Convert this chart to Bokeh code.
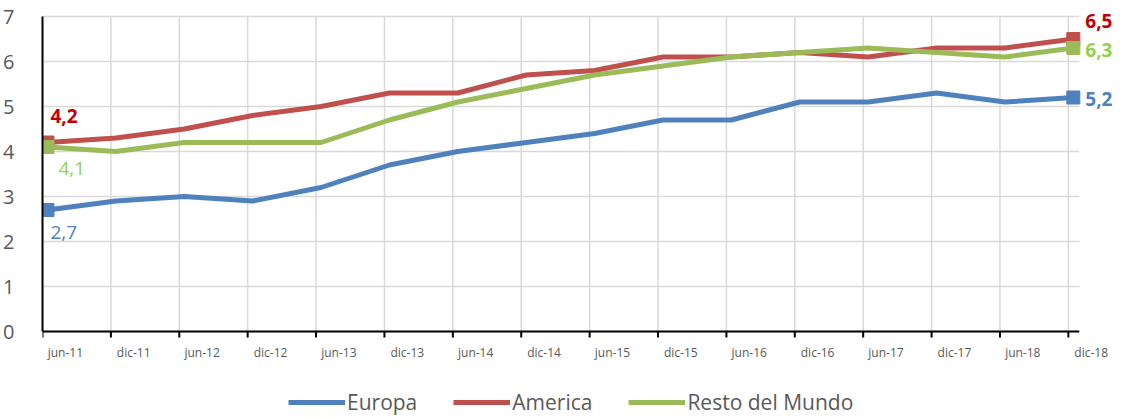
from bokeh.plotting import figure
from bokeh.models import (Range1d, FixedTicker, LinearAxis, Legend, LegendItem, Label)
from bokeh.core.properties import value
from bokeh.embed import file_html
from bokeh.resources import INLINE

periods = ["jun-11", "dic-11", "jun-12", "dic-12", "jun-13", "dic-13", "jun-14", "dic-14",
           "jun-15", "dic-15", "jun-16", "dic-16", "jun-17", "dic-17", "jun-18", "dic-18"]
europa = [2.7, 2.9, 3.0, 2.9, 3.2, 3.7, 4.0, 4.2, 4.4, 4.7, 4.7, 5.1, 5.1, 5.3, 5.1, 5.2]
america = [4.2, 4.3, 4.5, 4.8, 5.0, 5.3, 5.3, 5.7, 5.8, 6.1, 6.1, 6.2, 6.1, 6.3, 6.3, 6.5]
resto = [4.1, 4.0, 4.2, 4.2, 4.2, 4.7, 5.1, 5.4, 5.7, 5.9, 6.1, 6.2, 6.3, 6.2, 6.1, 6.3]
series_names = ["Europa", "America", "Resto del Mundo"]
y_ticks = [0, 1, 2, 3, 4, 5, 6, 7]

FONT = "Open Sans"
GRAY = "#595959"
GRID_COLOR = "#D9D9D9"

# ---- layout (pixel geometry of the plot area) ----
W, H = 1115, 418
LEFT = 34                 # left border holding the value axis
PX_X = 68.9               # px per period
PX_Y = 45.0               # px per unit
X0_PX = 5                 # first point sits 5px right of the left axis
AXIS_Y_PX = 331           # pixel row of value 0
n = len(periods)
x = list(range(n))
GRID_OFF = -X0_PX / PX_X
LABEL_OFF = 18 / PX_X
x_start = GRID_OFF
x_axis_end = n - 1 + 6 / PX_X
x_end = x_start + (W - LEFT) / PX_X
y_top = AXIS_Y_PX / PX_Y
y_bot = y_top - H / PX_Y
grid_x = [i + GRID_OFF for i in x]
ymax = y_ticks[-1]

p = figure(width=W, height=H, output_backend="svg", toolbar_location=None,
           x_range=Range1d(x_start, x_end), y_range=Range1d(y_bot, y_top),
           x_axis_location=None, y_axis_location=None,
           min_border_left=LEFT, min_border_right=0, min_border_top=0, min_border_bottom=0)
p.outline_line_color = None
p.xgrid.visible = False
p.ygrid.visible = False

# gridlines limited to the plot area
p.segment(x0=grid_x, y0=[0] * n, x1=grid_x, y1=[ymax] * n,
          line_color=GRID_COLOR, line_width=1.5)
p.segment(x0=[x_start] * len(y_ticks), y0=y_ticks, x1=[x_axis_end] * len(y_ticks), y1=y_ticks,
          line_color=GRID_COLOR, line_width=1.5)

# value axis (real axis, line limited to 0..7)
yaxis = LinearAxis(ticker=FixedTicker(ticks=y_ticks), bounds=(0, ymax),
                   axis_line_color="black", axis_line_width=2,
                   major_tick_line_color=None, minor_tick_line_color=None,
                   major_label_text_font=FONT, major_label_text_font_size="20px",
                   major_label_text_color=GRAY, major_label_standoff=22)
p.add_layout(yaxis, "left")

# category axis line and tick marks at value 0
tick_len = 6 / PX_Y
p.segment(x0=[x_start], y0=[0], x1=[x_axis_end], y1=[0], line_color="black", line_width=2)
p.segment(x0=grid_x, y0=[0] * n, x1=grid_x, y1=[-tick_len] * n, line_color="black", line_width=2)

# period labels between the tick marks
p.text(x=[i + LABEL_OFF for i in x], y=[0] * n, text=periods, y_offset=21,
       text_align="center", text_baseline="middle",
       text_font=value(FONT), text_font_size="12px", text_color=GRAY)

colors = ["#4F81BD", "#C0504D", "#9BBB59"]
renderers = []
for vals, c in zip([europa, america, resto], colors):
    r = p.line(x, vals, line_width=5, line_color=c)
    renderers.append(r)
    p.scatter([x[0], x[-1]], [vals[0], vals[-1]], marker="square", size=13,
              fill_color=c, line_color=c)

label_specs = [
    # (series, index, text color, weight, x_offset, y_offset)
    (europa, 0, "#4F81BD", "normal", 3, -22),
    (america, 0, "#C00000", "bold", 3, 27),
    (resto, 0, "#92D050", "normal", 11, -21),
    (europa, -1, "#4F81BD", "bold", 12, -1),
    (america, -1, "#C00000", "bold", 12, 18),
    (resto, -1, "#92D050", "bold", 12, -2),
]
for vals, idx, col, style, dx, dy in label_specs:
    v = vals[idx]
    p.add_layout(Label(x=x[idx], y=v, text=f"{v:.1f}".replace(".", ","),
                       x_offset=dx, y_offset=dy, text_align="left", text_baseline="middle",
                       text_font=FONT, text_font_size="19px", text_font_style=style,
                       text_color=col))

legend = Legend(items=[LegendItem(label=nm, renderers=[r]) for nm, r in zip(series_names, renderers)],
                orientation="horizontal", location=(246, 2),
                label_text_font=FONT, label_text_font_size="21px", label_text_color=GRAY,
                glyph_width=57, glyph_height=20, label_standoff=2, spacing=36,
                border_line_color=None, background_fill_alpha=0, padding=0, margin=0)
p.add_layout(legend, "center")

open("out.html", "w").write(file_html(p, INLINE))
